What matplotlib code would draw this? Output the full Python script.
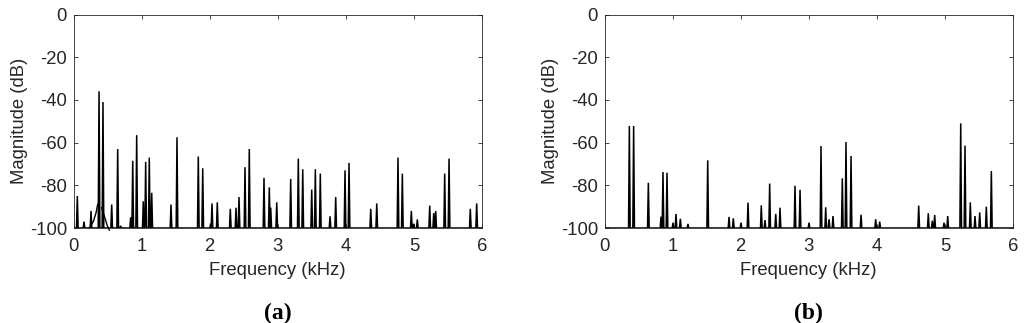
import matplotlib
matplotlib.use("Agg")
import matplotlib.pyplot as plt

# ---- data ----
freq_a = [0.056, 0.154, 0.257, 0.375, 0.433, 0.561, 0.649, 0.693, 0.840, 0.870,
          0.928, 1.025, 1.060, 1.113, 1.149, 1.432, 1.520, 1.833, 1.898, 2.015,
          2.034, 2.112, 2.303, 2.387, 2.431, 2.519, 2.582, 2.798, 2.876, 2.897,
          2.985, 3.190, 3.302, 3.367, 3.499, 3.552, 3.625, 3.768, 3.851, 3.988,
          4.047, 4.366, 4.454, 4.766, 4.830, 4.962, 4.997, 5.050, 5.232, 5.291,
          5.320, 5.452, 5.516, 5.828, 5.922]
mag_a = [-85, -97, -92, -36, -41, -89, -63, -99, -95, -68.5,
         -56.5, -87.5, -69, -67, -83.5, -89, -57.5, -66.5, -72, -98,
         -88.5, -88, -91, -90.5, -85.5, -71.5, -63, -76.5, -81, -90.5,
         -88, -77, -67.5, -72.5, -82, -72.5, -74.5, -94.5, -85.5, -73,
         -69.5, -91, -88.5, -67, -74.5, -92, -98, -96, -89.5, -93,
         -92, -74.5, -67.5, -91, -88.5]

# broad skirt around the strongest pair of tones in panel (a)
skirt_left_f = [0.232, 0.291, 0.330, 0.355]
skirt_left_db = [-100, -97, -93, -89]
skirt_right_f = [0.414, 0.463, 0.497, 0.526]
skirt_right_db = [-90.5, -95.5, -99, -101]

freq_b = [0.365, 0.428, 0.644, 0.830, 0.859, 0.918, 1.006, 1.050, 1.114, 1.226,
          1.516, 1.829, 1.892, 2.005, 2.108, 2.303, 2.357, 2.426, 2.515, 2.578,
          2.798, 2.872, 3.004, 3.180, 3.249, 3.298, 3.356, 3.493, 3.547, 3.621,
          3.768, 3.983, 4.042, 4.615, 4.756, 4.815, 4.850, 4.987, 5.041, 5.232,
          5.295, 5.373, 5.442, 5.511, 5.608, 5.682]
mag_b = [-52.2, -52.2, -78.8, -94.7, -73.8, -74.1, -97.5, -93.4, -95.7, -98.1,
         -68.3, -94.8, -95.5, -97.5, -88.1, -89.4, -96.3, -79.2, -93.4, -90.5,
         -80.2, -82.1, -97.5, -61.6, -90.3, -95.9, -94.4, -76.7, -59.7, -66.3,
         -93.8, -95.9, -97.0, -89.5, -93.1, -96.6, -93.9, -97.5, -94.4, -51.0,
         -61.4, -88.0, -94.4, -92.7, -90.0, -73.3]

x_ticks = [0, 1, 2, 3, 4, 5, 6]
y_ticks = [-100, -80, -60, -40, -20, 0]
x_label = "Frequency (kHz)"
y_label = "Magnitude (dB)"
panel_labels = ["(a)", "(b)"]

# ---- style ----
plt.rcParams["font.family"] = ["Liberation Sans", "DejaVu Sans"]
plt.rcParams["axes.unicode_minus"] = False
AX_COL = "#262626"
FS = 13.3


def spike_line(freqs, mags, floor=-100.0, hw=0.012, fmax=6.0):
    xs, ys = [0.0], [floor]
    for f, m in sorted(zip(freqs, mags)):
        xs += [f - hw, f, f + hw]
        ys += [floor, m, floor]
    xs.append(fmax)
    ys.append(floor)
    return xs, ys


fig = plt.figure(figsize=(10.24, 3.23), dpi=100)
ax_w = 408.5 / 1024
ax_h = 213.5 / 323
ax_b = (323 - 228) / 323
axes = [fig.add_axes([73.5 / 1024, ax_b, ax_w, ax_h]),
        fig.add_axes([604.5 / 1024, ax_b, ax_w, ax_h])]

data = [(freq_a, mag_a), (freq_b, mag_b)]
for i, ax in enumerate(axes):
    xs, ys = spike_line(*data[i])
    ax.plot(xs, ys, color="black", lw=1.1, solid_joinstyle="miter")
    if i == 0:
        ax.plot(skirt_left_f, skirt_left_db, color="black", lw=1.0, clip_on=False)
        ax.plot(skirt_right_f, skirt_right_db, color="black", lw=1.0, clip_on=False)
    ax.set_xlim(0, 6)
    ax.set_ylim(-100, 0)
    ax.set_xticks(x_ticks)
    ax.set_yticks(y_ticks)
    ax.set_xticklabels([str(t) for t in x_ticks])
    ax.set_yticklabels([str(t) for t in y_ticks])
    ax.tick_params(direction="in", length=3, width=0.6, colors=AX_COL,
                   labelsize=FS, top=True, right=True)
    ax.tick_params(axis="x", pad=7.5)
    ax.tick_params(axis="y", pad=4.7)
    for sp in ax.spines.values():
        sp.set_color(AX_COL)
        sp.set_linewidth(0.6)
    ax.set_xlabel(x_label, fontsize=FS, color=AX_COL, labelpad=5)
    ax.set_ylabel(y_label, fontsize=FS, color=AX_COL, labelpad=1.5)
    cx = ax.get_position().x0 + ax_w / 2
    fig.text(cx, (323 - 313) / 323, panel_labels[i],
             ha="center", va="center", fontsize=17, fontweight="bold",
             family=["Liberation Serif", "DejaVu Serif"], color="black")

fig.savefig("out.png", dpi=100)
